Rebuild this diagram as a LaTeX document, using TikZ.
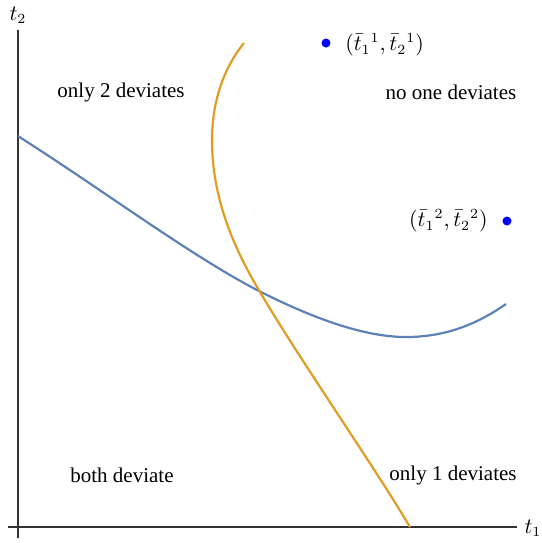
\documentclass[tikz,border=0pt]{standalone}
\usepackage{amsmath,amssymb}
\usepackage{fontspec}
\setmainfont{Liberation Serif}
\usetikzlibrary{positioning}
\definecolor{curveblue}{RGB}{94,129,181}
\definecolor{curveorange}{RGB}{224,156,36}

\begin{document}
\begin{tikzpicture}[x=0.5pt, y=-0.5pt,
    axis/.style   = {draw, line width=0.7pt, black!80},
    bluecurve/.style = {draw=curveblue, line width=1.1pt},
    orangecurve/.style = {draw=curveorange, line width=1.1pt},
    region/.style = {font=\fontsize{10.5}{12}\selectfont, inner sep=0pt},
    pt/.style     = {circle, fill=blue, inner sep=0pt, minimum size=4.5pt},
    ptlabel/.style = {font=\fontsize{10.5}{12}\selectfont, inner sep=0pt},
]
\useasboundingbox (0,0) rectangle (542,543);
\coordinate (ytop)   at (18,30);
\coordinate (ybot)   at (18,538);
\coordinate (xleft)  at (8,527);
\coordinate (xright) at (517,527);
\draw[axis] (ybot) -- (ytop);
\draw[axis] (xleft) -- (xright);
\node[ptlabel] (ylab) at (18,15)  {$t_2$};
\node[ptlabel] (xlab) at (533,528) {$t_1$};

\draw[bluecurve] (18,136) .. controls (110,195) and (190,255) .. (257,290)
    .. controls (320,322) and (370,338) .. (410,337)
    .. controls (450,336) and (480,322) .. (506,304);
\draw[orangecurve] (244,43) .. controls (222,70) and (212,105) .. (212,140)
    .. controls (212,200) and (235,250) .. (260,292)
    .. controls (300,360) and (370,460) .. (410,527);

\node[region] (only2) at (121,92)  {only 2 deviates};
\node[region] (noone) at (451,92)  {no one deviates};
\node[region] (both)  at (122,475) {both deviate};
\node[region] (only1) at (453,475) {only 1 deviates};

\node[pt] (p1) at (326,43) {};
\node[ptlabel, right=7pt of p1, yshift=-1pt] (p1lab) {$(\bar{t}_1{}^{1},\bar{t}_2{}^{1})$};
\node[pt] (p2) at (507,221) {};
\node[ptlabel, left=7pt of p2] (p2lab) {$(\bar{t}_1{}^{2},\bar{t}_2{}^{2})$};
\end{tikzpicture}
\end{document}
